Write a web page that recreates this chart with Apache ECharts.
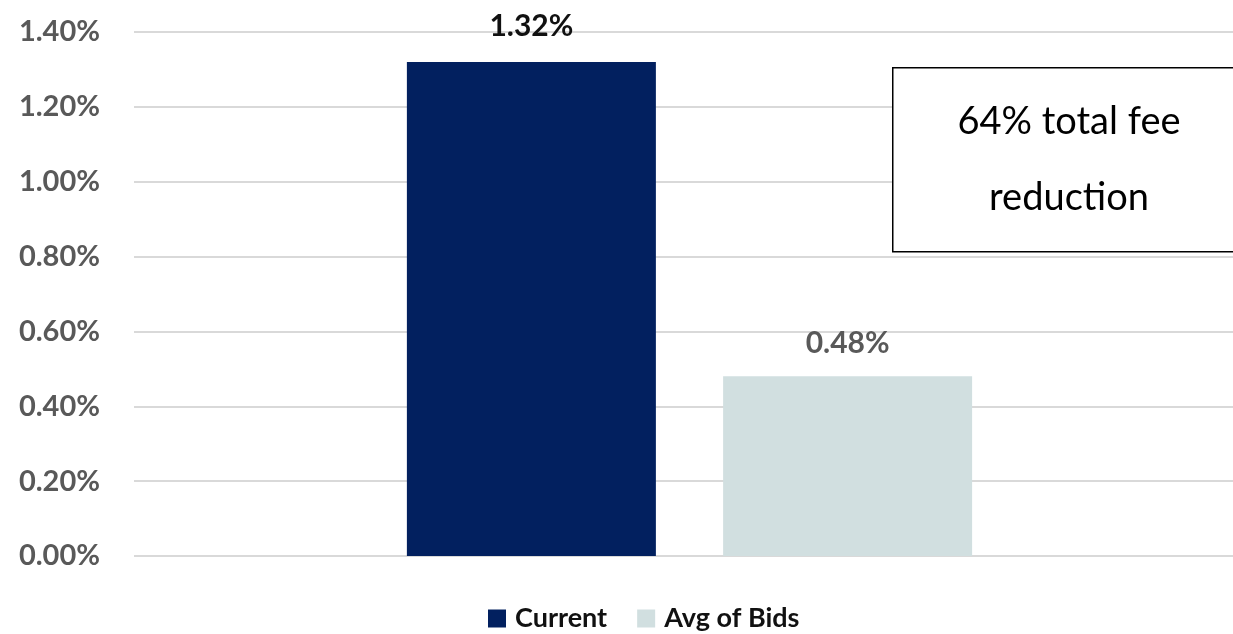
<!DOCTYPE html>
<html><head><meta charset="utf-8">
<script src="https://cdn.jsdelivr.net/npm/echarts@6/dist/echarts.min.js"></script>
<style>html,body{margin:0;padding:0;background:#fff;overflow:hidden;width:1233px;height:634px}#c{width:1245px;height:634px}</style>
</head><body><div id="c"></div>
<script>
const categories = ['Fees'];
const seriesNames = ['Current', 'Avg of Bids'];
const currentValues = [1.32];
const avgBidValues = [0.48];
const yTicks = [0, 0.2, 0.4, 0.6, 0.8, 1.0, 1.2, 1.4];
const noteText = '64% total fee\nreduction';

const FONT = 'Lato, "Open Sans", sans-serif';
const chart = echarts.init(document.getElementById('c'));
chart.setOption({
  animation: false,
  textStyle: {fontFamily: FONT},
  grid: {left: 134, right: 0, top: 32, bottom: 78, containLabel: false},
  legend: {
    data: seriesNames, top: 600, left: 483, itemWidth: 18, itemHeight: 18, itemGap: 30,
    icon: 'rect',
    textStyle: {fontFamily: FONT, fontSize: 27, fontWeight: 'bold', color: '#111', padding: [0, 0, 0, 4]}
  },
  xAxis: {type: 'category', data: categories, axisLine: {show: false}, axisTick: {show: false}, axisLabel: {show: false}},
  yAxis: {
    type: 'value', min: yTicks[0], max: yTicks[yTicks.length - 1], interval: 0.2,
    axisLine: {show: false}, axisTick: {show: false},
    splitLine: {lineStyle: {color: '#d9d9d9', width: 2}},
    axisLabel: {margin: 34, fontSize: 29, fontWeight: 'bold', color: '#595959', fontFamily: FONT,
      formatter: v => v.toFixed(2) + '%'}
  },
  series: [
    {name: seriesNames[0], type: 'bar', data: currentValues, barWidth: 249, barGap: '27%',
      itemStyle: {color: '#02205f'},
      label: {show: true, position: 'top', distance: 21, fontSize: 30, fontWeight: 'bold', color: '#111', fontFamily: FONT,
        formatter: p => p.value.toFixed(2) + '%'}},
    {name: seriesNames[1], type: 'bar', data: avgBidValues, barWidth: 249,
      itemStyle: {color: '#d1dfe0'},
      label: {show: true, position: 'top', distance: 18, fontSize: 30, fontWeight: 'bold', color: '#595959', fontFamily: FONT,
        formatter: p => p.value.toFixed(2) + '%'}}
  ],
  graphic: [
    {type: 'rect', left: 892, top: 67, shape: {width: 360, height: 184},
      style: {fill: '#fff', stroke: '#000', lineWidth: 1.5}, z: 10},
    {type: 'text', x: 1069, y: 160, z: 11,
      style: {text: noteText, fontSize: 38, fontFamily: FONT, fill: '#000', align: 'center', verticalAlign: 'middle', lineHeight: 76}}
  ]
});
</script></body></html>
